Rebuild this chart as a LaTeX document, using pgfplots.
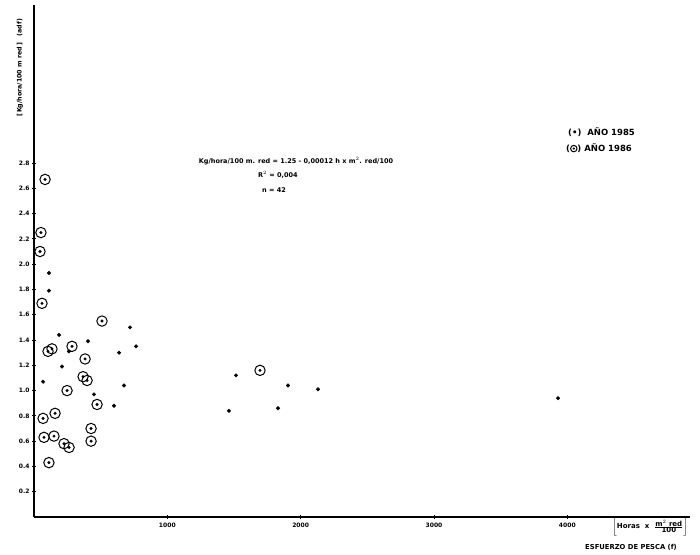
\documentclass[border=0pt]{standalone}
\usepackage{fontspec}
\setmainfont{DejaVu Sans}
\usepackage{pgfplots}
\usepackage{pgfplotstable}
\pgfplotsset{compat=1.18}

\pgfplotstableread{
x y
112 1.93
112 1.79
188 1.44
405 1.39
262 1.31
210 1.19
68 1.07
638 1.30
720 1.50
765 1.35
675 1.04
450 0.97
600 0.88
1515 1.12
1905 1.04
2130 1.01
1462 0.84
1830 0.86
3930 0.94
}\yearA

\pgfplotstableread{
x y
83 2.67
52 2.25
45 2.10
60 1.69
510 1.55
105 1.31
135 1.33
285 1.35
383 1.25
368 1.11
398 1.08
248 1.00
473 0.89
158 0.82
68 0.78
75 0.63
150 0.64
225 0.58
263 0.55
428 0.70
428 0.60
112 0.43
1695 1.16
}\yearB

\begin{document}
\begin{tikzpicture}
\useasboundingbox (-34pt,-37pt) rectangle (666pt,517pt);
\begin{axis}[
  scale only axis, width=656pt, height=512pt,
  xmin=0, xmax=4920, ymin=0, ymax=4.05,
  axis x line=bottom, axis y line=left,
  axis line style={-, line width=1.1pt},
  clip=false,
  xtick={1000,2000,3000,4000},
  ytick={0.2,0.4,0.6,0.8,1.0,1.2,1.4,1.6,1.8,2.0,2.2,2.4,2.6,2.8},
  tick align=center, major tick length=4pt,
  tick style={black, line width=0.8pt},
  /pgf/number format/assume math mode=true,
  x tick label style={/pgf/number format/1000 sep={}, font=\bfseries\fontsize{6}{7}\selectfont, yshift=-1pt},
  y tick label style={/pgf/number format/.cd, fixed, fixed zerofill, precision=1, /tikz/.cd, font=\bfseries\fontsize{6}{7}\selectfont, xshift=1pt},
]
\addplot[only marks, mark=*, mark size=1.8pt, black] table[x=x,y=y] {\yearA};
\addplot[only marks, mark=*, mark size=1.3pt, black] table[x=x,y=y] {\yearB};
\addplot[only marks, mark=o, mark size=5.2pt, black, mark options={line width=1pt}] table[x=x,y=y] {\yearB};
\end{axis}
\begin{scope}[every node/.style={font=\bfseries\fontsize{6.5}{7}\selectfont, inner sep=0pt}]
\node[rotate=90, font=\bfseries\fontsize{6.3}{7}\selectfont] at (-14pt,449pt) {[\,Kg/hora/100 m red\,]\ \ \ (adf)};
\node at (262pt,356pt) {Kg/hora/100 m. red = 1.25 - 0,00012 h x m$^{2}$. red/100};
\node[anchor=west] at (224pt,342pt) {R$^{2}$ = 0,004};
\node[anchor=west] at (228pt,327pt) {n = 42};
\node[anchor=west, font=\bfseries\fontsize{8.5}{10}\selectfont] at (534pt,385pt) {(\textbullet)\ \ AÑO 1985};
\node[anchor=west, font=\bfseries\fontsize{8.5}{10}\selectfont] at (532pt,369pt) {(\tikz[baseline=-0.6ex]{\draw[line width=1pt] (0,0) circle (3.2pt); \fill (0,0) circle (1.2pt);})\ AÑO 1986};
\node[anchor=west] at (578pt,-10pt) {$\left[\mbox{\bfseries\fontsize{7}{8}\selectfont Horas \ x \ }\frac{\mbox{\bfseries\fontsize{7}{8}\selectfont m$^{2}$ red}}{\mbox{\bfseries\fontsize{7}{8}\selectfont 100}}\right]$};
\node[anchor=west, font=\bfseries\fontsize{6.8}{8}\selectfont] at (551pt,-30pt) {ESFUERZO DE PESCA (f)};
\end{scope}
\end{tikzpicture}
\end{document}
